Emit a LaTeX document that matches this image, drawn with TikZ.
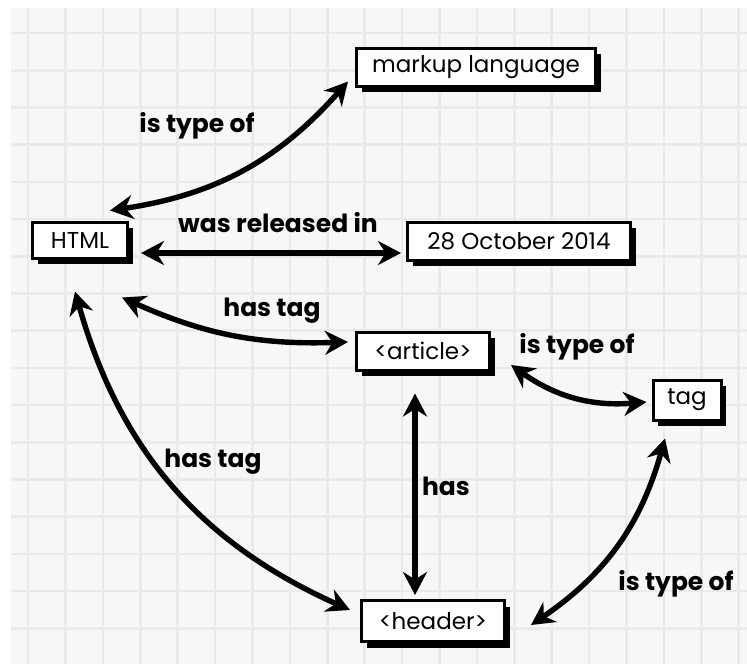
\documentclass[tikz,border=0pt]{standalone}
\usepackage{fontspec}
\setmainfont{Poppins}
\usetikzlibrary{arrows.meta, shadows, calc}
\definecolor{paper}{RGB}{247,247,247}
\definecolor{gridgray}{RGB}{234,234,234}

\tikzset{
  box/.style={draw, line width=1.5pt, fill=white, inner sep=2pt, minimum height=19pt,
    font=\fontsize{11.5}{12}\selectfont,
    drop shadow={shadow xshift=2.5pt, shadow yshift=-3pt, fill=black, opacity=1}},
  conn/.style={line width=2.7pt, {Stealth[length=11.5pt,width=12pt]}-{Stealth[length=11.5pt,width=12pt]}},
  lbl/.style={font=\bfseries\fontsize{12.5}{13}\selectfont}
}

\begin{document}
\begin{tikzpicture}[x=0.5pt, y=0.5pt]
  \useasboundingbox (0,0) rectangle (747,-664);
  % squared paper
  \fill[white] (0,0) rectangle (747,-664);
  \fill[paper] (11,-8) rectangle (747,-664);
  \foreach \i in {0,...,19}
    \draw[gridgray, line width=1.3pt] ({28+37.4*\i},-8) -- ({28+37.4*\i},-664);
  \foreach \j in {0,...,16}
    \draw[gridgray, line width=1.3pt] (11,{-33-37.2*\j}) -- (747,{-33-37.2*\j});

  % concepts
  \node[box, minimum width=119.5pt] (markup) at (476,-67) {markup language};
  \node[box, minimum width=47.5pt, minimum height=18pt] (html) at (80,-240) {HTML};
  \node[box, minimum width=111.5pt] (date) at (519,-241) {28 October 2014};
  \node[box, minimum width=66.5pt] (article) at (423,-351) {<article>};
  \node[box, minimum width=34pt, minimum height=20pt] (tag) at (687,-400) {tag};
  \node[box, minimum width=71.5pt, minimum height=20.5pt] (header) at (433,-621) {<header>};

  % relations
  \draw[conn] ($(html.north)+(30,10)$) to[bend right=20] ($(markup.south west)+(-7,6)$);
  \draw[conn] ($(html.east)+(12,-13)$) -- ($(date.west)+(-5,-12)$);
  \draw[conn] ($(html.south)+(42,-38)$) to[bend right=13] ($(article.west)+(-7,9)$);
  \draw[conn] ($(html.south)+(-5,-32)$) to[bend right=25] ($(header.west)+(-10,11)$);
  \draw[conn] ($(article.south)+(-8,-22)$) -- ($(header.north)+(-18,4)$);
  \draw[conn] ($(article.east)+(20,-14)$) to[bend right=20] ($(tag.west)+(-5,-2)$);
  \draw[conn] ($(tag.south)+(-22,-17)$) to[bend left=20] ($(header.east)+(25,-4)$);

  % relation labels
  \node[lbl] (l1) at (197,-126) {is type of};
  \node[lbl] (l2) at (278,-223) {was released in};
  \node[lbl] (l3) at (272,-311) {has tag};
  \node[lbl] (l4) at (213,-462) {has tag};
  \node[lbl] (l5) at (446,-486) {has};
  \node[lbl] (l6) at (577,-347) {is type of};
  \node[lbl] (l7) at (676,-584) {is type of};
\end{tikzpicture}
\end{document}
